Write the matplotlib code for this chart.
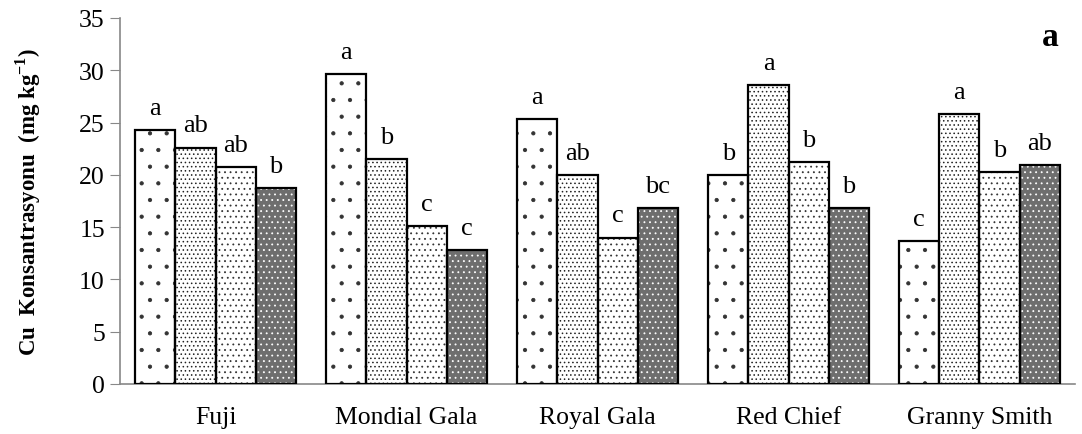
import matplotlib
matplotlib.use("Agg")
import matplotlib.pyplot as plt
import numpy as np

plt.rcParams['font.family'] = ['Liberation Serif', 'DejaVu Serif']
plt.rcParams['mathtext.fontset'] = 'custom'
plt.rcParams['mathtext.rm'] = 'Liberation Serif'
plt.rcParams['mathtext.bf'] = 'Liberation Serif:bold'
plt.rcParams['hatch.linewidth'] = 0.6

# data
varieties = ["Fuji", "Mondial Gala", "Royal Gala", "Red Chief", "Granny Smith"]
t1 = [24.3, 29.6, 25.3, 20.0, 13.7]
t2 = [22.6, 21.5, 20.0, 28.6, 25.8]
t3 = [20.7, 15.1, 14.0, 21.2, 20.3]
t4 = [18.7, 12.8, 16.8, 16.8, 20.9]
letters1 = ["a", "a", "a", "b", "c"]
letters2 = ["ab", "b", "ab", "a", "a"]
letters3 = ["ab", "c", "c", "b", "b"]
letters4 = ["b", "c", "bc", "b", "ab"]

series = [t1, t2, t3, t4]
letters = [letters1, letters2, letters3, letters4]
# (facecolor, hatch colour, hatch)
styles = [("white", "#333333", "."),
          ("white", "#222222", "...."),
          ("white", "#333333", "..."),
          ("#6e6e6e", "white", "...")]

fig = plt.figure(figsize=(10.82, 4.35), dpi=100)
ax = fig.add_axes([0.111, 0.115, 0.8825, 0.8415])

x = np.arange(len(varieties))
w = 0.21
for i, (vals, labs, st) in enumerate(zip(series, letters, styles)):
    pos = x + (i - 1.5) * w
    ax.bar(pos, vals, w, color=st[0], edgecolor=st[1], hatch=st[2], linewidth=0, zorder=2)
    ax.bar(pos, vals, w, fill=False, edgecolor="black", linewidth=1.6, zorder=3)
    for px, v, t in zip(pos, vals, labs):
        ax.annotate(t, (px, v), xytext=(0, 8), textcoords="offset points",
                    ha="center", va="bottom", fontsize=19)

ax.set_xlim(-0.5, 4.5)
ax.set_ylim(0, 35)
ax.set_yticks(range(0, 36, 5))
ax.set_xticks(x)
ax.set_xticklabels(varieties, fontsize=18.5)
ax.tick_params(axis="y", labelsize=18.5, length=7, color="#888888", pad=4)
ax.tick_params(axis="x", length=0, pad=16)
for s in ["top", "right"]:
    ax.spines[s].set_visible(False)
for s in ["left", "bottom"]:
    ax.spines[s].set_color("#888888")
    ax.spines[s].set_linewidth(1.2)

ax.set_ylabel("Cu  Konsantrasyonu  (mg kg$^{\\mathbf{-1}}$)", fontsize=16.5,
              fontweight="bold", labelpad=26)
fig.text(0.971, 0.894, "a", fontsize=24, fontweight="bold", ha="center", va="baseline")

fig.savefig("out.png", dpi=100)
